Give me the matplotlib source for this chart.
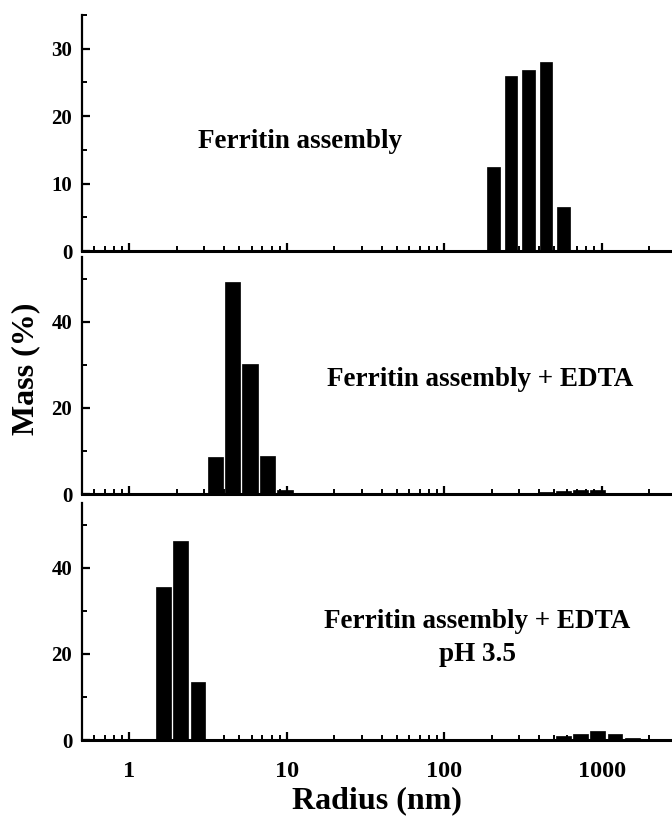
import matplotlib
matplotlib.use("Agg")
import matplotlib.pyplot as plt
import numpy as np
from matplotlib.ticker import LogLocator, NullFormatter, MultipleLocator

plt.rcParams['font.family'] = ['Liberation Serif', 'DejaVu Serif']
plt.rcParams['font.weight'] = 'bold'

# bin centres (nm) and mass (%)
top_r = [206, 266, 344, 444, 573]
top_m = [12.5, 25.9, 26.9, 28.0, 6.5]

mid_r = [3.54, 4.53, 5.85, 7.55, 9.75, 444, 573, 735, 945, 1215]
mid_m = [8.7, 49.2, 30.2, 8.9, 1.0, 0.4, 0.7, 0.9, 1.0, 0.3]

bot_r = [1.64, 2.12, 2.73, 573, 735, 945, 1215, 1565]
bot_m = [35.6, 46.3, 13.5, 1.0, 1.5, 2.2, 1.4, 0.4]

labels = ["Ferritin assembly", "Ferritin assembly + EDTA",
          "Ferritin assembly + EDTA\npH 3.5"]
ylims = [35, 55, 55]
ymajor = [10, 20, 20]
label_pos = [(0.37, 0.466), (0.675, 0.483), (0.67, 0.43)]

step = 0.1105  # log10 bin spacing
fracs = [0.73, 0.88, 0.85]

fig = plt.figure(figsize=(6.72, 8.16), dpi=100)
boxes = [[0.122, 0.6924, 0.878, 0.2892],
         [0.122, 0.3946, 0.878, 0.2904],
         [0.122, 0.0931, 0.878, 0.2904]]

data = [(top_r, top_m), (mid_r, mid_m), (bot_r, bot_m)]
for i, (r, m) in enumerate(data):
    ax = fig.add_axes(boxes[i])
    r = np.array(r, dtype=float)
    hw = fracs[i] * step / 2
    left = r / 10**hw
    width = r * (10**hw - 10**-hw)
    ax.bar(left, m, width=width, align='edge', color='black', edgecolor='black', linewidth=0.5)
    ax.set_xscale('log')
    ax.set_xlim(0.5, 2800)
    ax.set_ylim(0, ylims[i])
    ax.yaxis.set_major_locator(MultipleLocator(ymajor[i]))
    ax.yaxis.set_minor_locator(MultipleLocator(ymajor[i] / 2))
    ax.xaxis.set_major_locator(LogLocator(base=10, numticks=10))
    ax.xaxis.set_minor_locator(LogLocator(base=10, subs=np.arange(2, 10), numticks=10))
    ax.xaxis.set_minor_formatter(NullFormatter())
    for s in ['top', 'right']:
        ax.spines[s].set_visible(False)
    ax.spines['left'].set_linewidth(1.6)
    ax.spines['bottom'].set_linewidth(2.2)
    ax.tick_params(which='major', direction='in', length=6, width=1.6, labelsize=15)
    ax.tick_params(which='minor', direction='in', length=3.5, width=1.4)
    ax.tick_params(axis='y', which='major', pad=7)
    ax.tick_params(axis='x', which='major', labelsize=17.5, pad=15)
    if i < 2:
        ax.tick_params(axis='x', labelbottom=False)
    else:
        ax.set_xticks([1, 10, 100, 1000])
        ax.set_xticklabels(['1', '10', '100', '1000'])
        ax.set_xlabel('Radius (nm)', fontsize=23, fontweight='bold', labelpad=3)
    for t in ax.get_yticklabels() + ax.get_xticklabels():
        t.set_fontweight('bold')
    ax.text(label_pos[i][0], label_pos[i][1], labels[i], transform=ax.transAxes,
            ha='center', va='center', fontsize=19.5, fontweight='bold', linespacing=1.45)
    if i == 1:
        ax.set_ylabel('Mass (%)', fontsize=23, fontweight='bold')
        ax.yaxis.set_label_coords(-0.07, 0.53)

fig.savefig('out.png', dpi=100)
